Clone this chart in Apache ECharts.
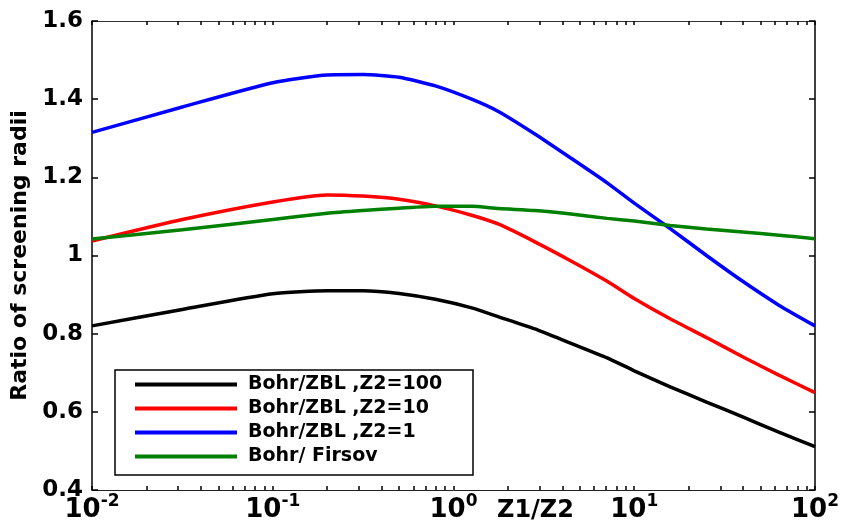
<!DOCTYPE html>
<html>
<head>
<meta charset="utf-8">
<title>Ratio of screening radii</title>
<script src="https://cdn.jsdelivr.net/npm/echarts@6/dist/echarts.min.js"></script>
<style>
  html, body { margin: 0; padding: 0; background: #fff; }
  #main { width: 842px; height: 532px; }
</style>
</head>
<body>
<div id="main"></div>
<script>
// Z1/Z2 sample points (log axis)
const zRatio = [0.01, 0.0316, 0.1, 0.2, 0.316, 0.5, 0.794, 1.26, 1.78, 2.82, 4.47, 7.08, 10, 15.8, 25.1, 39.8, 63.1, 100];

// ratios
const bohrZbl100 = [0.820, 0.862, 0.902, 0.910, 0.910, 0.903, 0.888, 0.866, 0.843, 0.812, 0.775, 0.738, 0.705, 0.664, 0.625, 0.587, 0.548, 0.511];
const bohrZbl10  = [1.037, 1.092, 1.137, 1.155, 1.152, 1.144, 1.127, 1.103, 1.080, 1.035, 0.986, 0.934, 0.890, 0.838, 0.790, 0.741, 0.694, 0.649];
const bohrZbl1   = [1.315, 1.380, 1.442, 1.462, 1.463, 1.456, 1.434, 1.400, 1.368, 1.311, 1.249, 1.186, 1.134, 1.069, 1.000, 0.934, 0.873, 0.820];
const bohrFirsov = [1.042, 1.066, 1.092, 1.108, 1.115, 1.121, 1.126, 1.126, 1.120, 1.115, 1.106, 1.095, 1.088, 1.077, 1.068, 1.060, 1.052, 1.043];

const seriesNames = ['Bohr/ZBL ,Z2=100', 'Bohr/ZBL ,Z2=10', 'Bohr/ZBL ,Z2=1', 'Bohr/ Firsov'];
const seriesColors = ['#000000', '#ff0000', '#0000ff', '#008000'];

// tick positions
const decadeTicks = [0.01, 0.1, 1, 10, 100];
const minorTicks = [];
[-2, -1, 0, 1].forEach(function (d) {
  for (let m = 1; m <= 9; m++) minorTicks.push(+(m * Math.pow(10, d)).toPrecision(3));
});
minorTicks.push(100);

const FONT = 'DejaVu Sans';

function pairs(ys) {
  return zRatio.map(function (x, i) { return [x, ys[i]]; });
}

const chart = echarts.init(document.getElementById('main'));

const allSeries = [bohrZbl100, bohrZbl10, bohrZbl1, bohrFirsov].map(function (ys, i) {
  return {
    name: seriesNames[i],
    type: 'line',
    data: pairs(ys),
    showSymbol: false,
    symbol: 'none',
    smooth: 0.2,
    color: seriesColors[i],
    lineStyle: { width: 3.5, color: seriesColors[i] },
    z: 3
  };
});

chart.setOption({
  animation: false,
  backgroundColor: '#fff',
  grid: { left: 92, right: 26, top: 21, bottom: 42 },
  legend: {
    orient: 'vertical',
    left: 135,
    top: 375,
    padding: 0,
    itemGap: 5,
    itemWidth: 102,
    itemHeight: 4,
    icon: 'rect',
    data: seriesNames,
    textStyle: {
      fontFamily: FONT, fontWeight: 'bold', fontSize: 19, color: '#000',
      lineHeight: 19, padding: [0, 0, 0, 6]
    }
  },
  xAxis: [
    {
      type: 'log', logBase: 10, min: 0.01, max: 100, position: 'bottom',
      axisLine: { lineStyle: { color: '#222', width: 1 } },
      axisTick: { inside: true, length: 4, customValues: minorTicks, lineStyle: { color: '#000', width: 1.5 } },
      axisLabel: {
        customValues: decadeTicks,
        margin: 3,
        formatter: function (v) {
          return '{b|10}{s|' + Math.round(Math.log10(v)) + '}';
        },
        rich: {
          b: { fontFamily: FONT, fontWeight: 'bold', fontSize: 26, color: '#000', lineHeight: 30, verticalAlign: 'bottom' },
          s: { fontFamily: FONT, fontWeight: 'bold', fontSize: 17, color: '#000', lineHeight: 18, verticalAlign: 'top' }
        }
      },
      splitLine: { show: false }
    },
    {
      type: 'log', logBase: 10, min: 0.01, max: 100, position: 'top',
      axisLine: { lineStyle: { color: '#333', width: 1 } },
      axisTick: { inside: true, length: 4, customValues: minorTicks, lineStyle: { color: '#000', width: 1.5 } },
      axisLabel: { show: false },
      splitLine: { show: false }
    }
  ],
  yAxis: [
    {
      type: 'value', min: 0.4, max: 1.6, interval: 0.2, position: 'left',
      name: 'Ratio of screening radii',
      nameLocation: 'middle',
      nameRotate: 90,
      nameGap: 58,
      nameTextStyle: { fontFamily: FONT, fontWeight: 'bold', fontSize: 22, color: '#000' },
      axisLine: { show: true, lineStyle: { color: '#000', width: 1.5 } },
      axisTick: { show: true, inside: true, length: 6, lineStyle: { color: '#000', width: 1.5 } },
      axisLabel: {
        margin: 9,
        fontFamily: FONT, fontWeight: 'bold', fontSize: 23, color: '#000',
        formatter: function (v) { return String(Math.round(v * 10) / 10); }
      },
      splitLine: { show: false }
    },
    {
      type: 'value', min: 0.4, max: 1.6, interval: 0.2, position: 'right',
      axisLine: { show: true, lineStyle: { color: '#000', width: 1.5 } },
      axisTick: { show: true, inside: true, length: 6, lineStyle: { color: '#000', width: 1.5 } },
      axisLabel: { show: false },
      splitLine: { show: false }
    }
  ],
  graphic: [
    {
      type: 'rect',
      shape: { x: 115, y: 370, width: 358, height: 105 },
      style: { fill: '#fff', stroke: '#000', lineWidth: 1.5 },
      z: 1
    },
    {
      type: 'text',
      left: 497,
      top: 499,
      style: { text: 'Z1/Z2', fontFamily: FONT, fontWeight: 'bold', fontSize: 24, fill: '#000' },
      z: 5
    }
  ],
  series: allSeries
});
</script>
</body>
</html>
